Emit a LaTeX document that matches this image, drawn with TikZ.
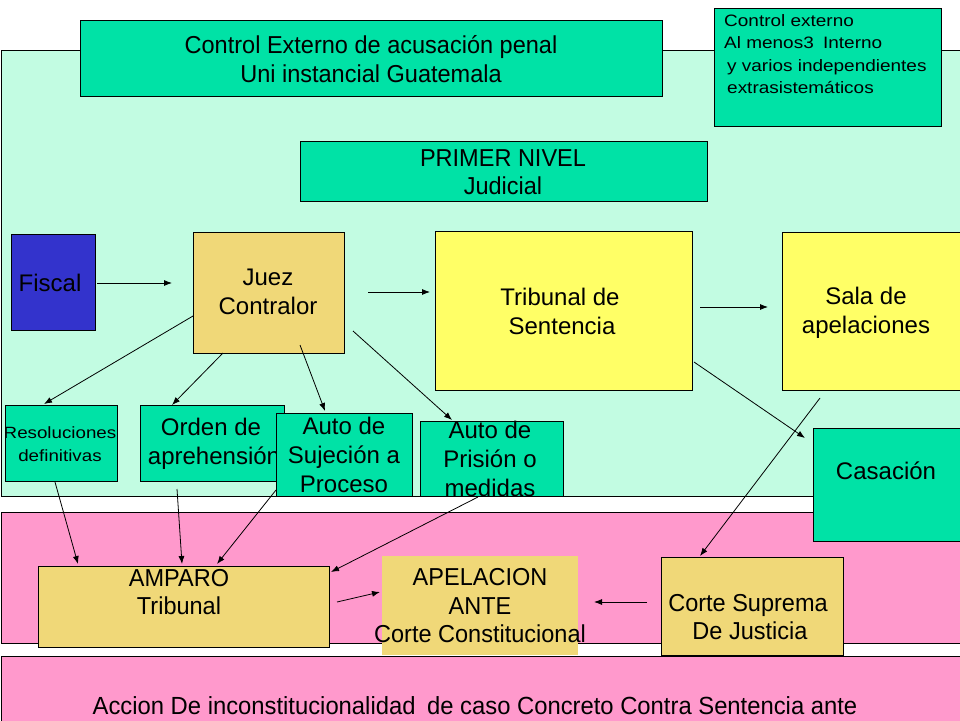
\documentclass[tikz,border=0pt]{standalone}
\usepackage{fontspec}
\setmainfont{Liberation Sans}
\newfontfamily\narrowfont[FakeStretch=0.96]{Liberation Sans}
\newfontfamily\widefont[FakeStretch=1.15]{Liberation Sans}
\usetikzlibrary{arrows.meta}
\definecolor{mint}{HTML}{C2FCE2}
\definecolor{sea}{HTML}{00E2A6}
\definecolor{tanbox}{HTML}{F0D878}
\definecolor{lemon}{HTML}{FFFF66}
\definecolor{pinkbg}{HTML}{FF99CC}
\definecolor{fiscalblue}{HTML}{3333CC}
\tikzset{
  box/.style={rectangle, draw=black, line width=0.9pt, inner sep=0pt, outer sep=0pt, anchor=north west},
  plainbox/.style={rectangle, draw=none, inner sep=0pt, outer sep=0pt, anchor=north west},
  txt/.style={inner sep=0pt, align=center, text=black},
  big/.style={font=\fontsize{24}{29}\selectfont},
  bignarrow/.style={font=\narrowfont\fontsize{24.5}{28.5}\selectfont},
  small/.style={font=\widefont\fontsize{16.5}{22.5}\selectfont},
  arr/.style={draw=black, line width=0.8pt, -{Latex[length=8pt,width=6pt]}},
}
\begin{document}
\begin{tikzpicture}[x=1pt,y=-1pt]
\useasboundingbox (0,0) rectangle (960,720);
\fill[white] (0,0) rectangle (960,720);
% background bands
\node[box, fill=mint, minimum width=975, minimum height=446] (upper) at (1,50) {};
\node[box, fill=pinkbg, minimum width=975, minimum height=131] (middle) at (1,512) {};
\node[box, fill=pinkbg, minimum width=975, minimum height=80] (lower) at (1,656) {};
% top boxes
\node[box, fill=sea, minimum width=582, minimum height=76] (title) at (80,20) {};
\node[txt, bignarrow] (titlet) at (371,59) {Control Externo de acusación penal\\Uni instancial Guatemala};
\node[box, fill=sea, minimum width=227, minimum height=118] (ctrl) at (714,8) {};
\node[inner sep=0pt, anchor=north west, align=left, small] (ctrlt) at (724,14) {Control externo\\Al menos3\hspace{4pt} Interno\\\hspace{3pt}y varios independientes\\\hspace{3pt}extrasistemáticos};
\node[box, fill=sea, minimum width=407, minimum height=60] (nivel) at (300,141) {};
\node[txt, bignarrow] (nivelt) at (503,172) {PRIMER NIVEL\\Judicial};
% first row
\node[box, fill=fiscalblue, minimum width=84, minimum height=96] (fiscal) at (11,234) {};
\node[txt, big] (fiscalt) at (50,283) {Fiscal};
\node[box, fill=tanbox, minimum width=151, minimum height=121] (juez) at (193,232) {};
\node[txt, big] (juezt) at (268,292) {Juez\\Contralor};
\node[box, fill=lemon, minimum width=257, minimum height=159] (trib) at (435,231) {};
\node[txt, big] (tribt) at (560,311) {Tribunal de\\\hspace{4pt}Sentencia};
\node[box, fill=lemon, minimum width=190, minimum height=158] (sala) at (782,232) {};
\node[txt, big] (salat) at (866,313) {Sala de\\apelaciones};
% second row
\node[box, fill=sea, minimum width=112, minimum height=76] (resol) at (5,405) {};
\node[txt, font=\widefont\fontsize{16.3}{23}\selectfont] (resolt) at (60,444) {Resoluciones\\definitivas};
\node[box, fill=sea, minimum width=144, minimum height=76] (orden) at (140,405) {};
\node[txt, big] (ordent) at (211,444) {Orden de\\\hspace{6pt}aprehensión};
\node[box, fill=sea, minimum width=136, minimum height=83] (sujec) at (276,413) {};
\node[txt, big] (suject) at (344,455) {Auto de\\Sujeción a\\Proceso};
\node[box, fill=sea, minimum width=143, minimum height=75] (prision) at (420,421) {};
\node[txt, big] (prisiont) at (490,459) {Auto de\\Prisión o\\medidas};
\node[box, fill=sea, minimum width=160, minimum height=113] (casa) at (813,428) {};
\node[txt, big] (casat) at (886,471) {Casación};
% bottom row
\node[box, fill=tanbox, minimum width=291, minimum height=81] (amparo) at (38,566) {};
\node[txt, bignarrow] (amparot) at (179,592) {AMPARO\\Tribunal};
\node[plainbox, fill=tanbox, minimum width=196, minimum height=99] (apel) at (382,556) {};
\node[txt, bignarrow] (apelt) at (480,606) {APELACION\\ANTE\\Corte Constitucional};
\node[box, fill=tanbox, minimum width=182, minimum height=98] (corte) at (661,557) {};
\node[txt, bignarrow] (cortet) at (748,617) {Corte Suprema\\\hspace{4pt}De Justicia};
\node[txt, font=\narrowfont\fontsize{24.8}{30}\selectfont] (accion) at (475,706) {Accion De inconstitucionalidad\hspace{5pt} de caso Concreto Contra Sentencia ante};
% connector end points
\coordinate (f1) at (97,283);   \coordinate (f2) at (172,283);
\coordinate (j1) at (368,292);  \coordinate (j2) at (430,292);
\coordinate (t1) at (700,307);  \coordinate (t2) at (768,307);
\coordinate (r1) at (193,316);  \coordinate (r2) at (44,404);
\coordinate (o1) at (223,353);  \coordinate (o2) at (172,405);
\coordinate (s1) at (300,345);  \coordinate (s2) at (325,411);
\coordinate (p1) at (353,331);  \coordinate (p2) at (452,420);
\coordinate (c1) at (694,362);  \coordinate (c2) at (805,438);
\coordinate (k1) at (820,398);  \coordinate (k2) at (700,556);
\coordinate (a1) at (55,482);   \coordinate (a2) at (78,564);
\coordinate (b1) at (177,489);  \coordinate (b2) at (182,564);
\coordinate (d1) at (276,490);  \coordinate (d2) at (217,564);
\coordinate (e1) at (478,497);  \coordinate (e2) at (331,572);
\coordinate (m1) at (337,602);  \coordinate (m2) at (380,592);
\coordinate (n1) at (647,602);  \coordinate (n2) at (594,602);
% connectors
\draw[arr] (f1) -- (f2);
\draw[arr] (j1) -- (j2);
\draw[arr] (t1) -- (t2);
\draw[arr] (r1) -- (r2);
\draw[arr] (o1) -- (o2);
\draw[arr] (s1) -- (s2);
\draw[arr] (p1) -- (p2);
\draw[arr] (c1) -- (c2);
\draw[arr] (k1) -- (k2);
\draw[arr] (a1) -- (a2);
\draw[arr] (b1) -- (b2);
\draw[arr] (d1) -- (d2);
\draw[arr] (e1) -- (e2);
\draw[arr] (m1) -- (m2);
\draw[arr] (n1) -- (n2);
\end{tikzpicture}
\end{document}
